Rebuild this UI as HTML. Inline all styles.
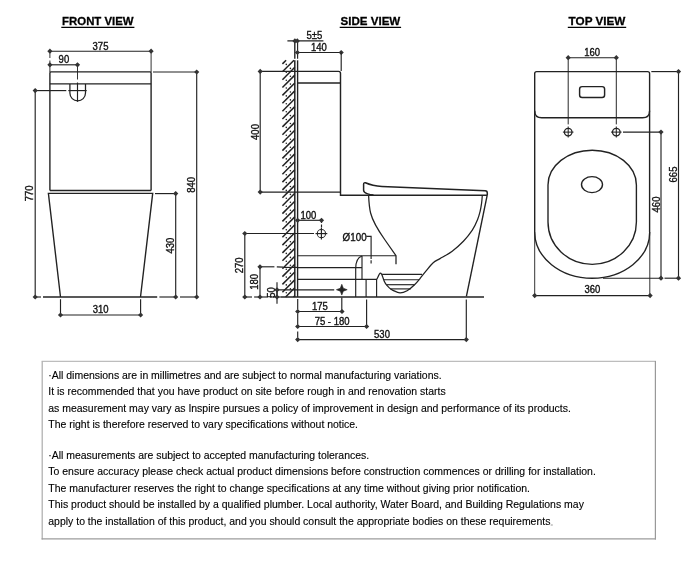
<!DOCTYPE html>
<html><head><meta charset="utf-8"><title>Toilet suite dimensions</title>
<style>
html,body{margin:0;padding:0;background:#fff;}
body{width:700px;height:587px;overflow:hidden;position:relative;}
svg{position:absolute;left:0;top:0;display:block;will-change:transform;}
</style></head><body>
<svg width="700" height="587" viewBox="0 0 700 587" font-family="'Liberation Sans', Arial, sans-serif" fill="#111" stroke="none">
<g stroke="#222" fill="none" stroke-linecap="butt">
<g>
<path d="M49.9 190.5 V72.9 Q49.9 71.9 50.9 71.9 H150.1 Q151.1 71.9 151.1 72.9 V190.5" stroke-width="1.38" />
<line x1="49.9" y1="83.9" x2="151.1" y2="83.9" stroke-width="1.38" />
<line x1="49.9" y1="190.5" x2="151.1" y2="190.5" stroke-width="1.38" />
<path d="M60.5 297.0 L48.4 193.4 H152.7 L140.5 297.0" stroke-width="1.38" stroke-linejoin="miter"/>
<line x1="43" y1="297.0" x2="157.2" y2="297.0" stroke-width="1.72" />
<path d="M69.9 83.9 V93.1 A7.8 7.8 0 0 0 85.5 93.1 V83.9" stroke-width="1.26" />
<line x1="68.3" y1="90.6" x2="86.7" y2="90.6" stroke-width="1.15" />
<line x1="77.5" y1="82.5" x2="77.5" y2="101.8" stroke-width="1.15" />
<line x1="77.5" y1="64.8" x2="77.5" y2="79.5" stroke-width="0.92" />
<line x1="49.9" y1="51.2" x2="49.9" y2="58" stroke-width="0.92" />
<line x1="49.9" y1="60.5" x2="49.9" y2="72" stroke-width="0.92" />
<line x1="151.1" y1="51.2" x2="151.1" y2="72" stroke-width="0.92" />
<line x1="35.2" y1="90.6" x2="66.3" y2="90.6" stroke-width="1.15" />
<line x1="35.2" y1="297.0" x2="41" y2="297.0" stroke-width="1.15" />
<line x1="153" y1="72.0" x2="196.7" y2="72.0" stroke-width="1.15" />
<line x1="155" y1="193.6" x2="175.7" y2="193.6" stroke-width="1.15" />
<line x1="159.4" y1="297.0" x2="175.7" y2="297.0" stroke-width="1.15" />
<line x1="180" y1="297.0" x2="196.7" y2="297.0" stroke-width="1.15" />
<line x1="60.5" y1="299.2" x2="60.5" y2="315.0" stroke-width="1.15" />
<line x1="140.6" y1="299.2" x2="140.6" y2="315.0" stroke-width="1.15" />
<line x1="49.9" y1="51.2" x2="151.1" y2="51.2" stroke-width="1.15" />
<path d="M47.3 51.2L49.9 48.6L52.5 51.2L49.9 53.8Z" fill="#333" stroke="none"/>
<path d="M148.5 51.2L151.1 48.6L153.7 51.2L151.1 53.8Z" fill="#333" stroke="none"/>
<text x="100.5" y="49.6" font-size="10.1" text-anchor="middle" stroke="#111" stroke-width="0.35" fill="#111" textLength="15.85" lengthAdjust="spacingAndGlyphs">375</text>
<line x1="49.9" y1="64.8" x2="77.5" y2="64.8" stroke-width="1.15" />
<path d="M47.3 64.8L49.9 62.2L52.5 64.8L49.9 67.4Z" fill="#333" stroke="none"/>
<path d="M74.9 64.8L77.5 62.2L80.1 64.8L77.5 67.4Z" fill="#333" stroke="none"/>
<text x="63.9" y="63.0" font-size="10.1" text-anchor="middle" stroke="#111" stroke-width="0.35" fill="#111" textLength="10.56" lengthAdjust="spacingAndGlyphs">90</text>
<line x1="60.5" y1="315.0" x2="140.6" y2="315.0" stroke-width="1.15" />
<path d="M57.9 315.0L60.5 312.4L63.1 315.0L60.5 317.6Z" fill="#333" stroke="none"/>
<path d="M138.0 315.0L140.6 312.4L143.2 315.0L140.6 317.6Z" fill="#333" stroke="none"/>
<text x="100.55" y="312.5" font-size="10.1" text-anchor="middle" stroke="#111" stroke-width="0.35" fill="#111" textLength="15.85" lengthAdjust="spacingAndGlyphs">310</text>
<line x1="35.2" y1="90.6" x2="35.2" y2="297.0" stroke-width="1.15" />
<path d="M32.6 90.6L35.2 88.0L37.8 90.6L35.2 93.2Z" fill="#333" stroke="none"/>
<path d="M32.6 297.0L35.2 294.4L37.8 297.0L35.2 299.6Z" fill="#333" stroke="none"/>
<text x="33.3" y="193.4" font-size="10.1" text-anchor="middle" stroke="#111" stroke-width="0.35" fill="#111" transform="rotate(-90 33.3 193.4)" textLength="15.85" lengthAdjust="spacingAndGlyphs">770</text>
<line x1="175.7" y1="193.6" x2="175.7" y2="297.0" stroke-width="1.15" />
<path d="M173.1 193.6L175.7 191.0L178.3 193.6L175.7 196.2Z" fill="#333" stroke="none"/>
<path d="M173.1 297.0L175.7 294.4L178.3 297.0L175.7 299.6Z" fill="#333" stroke="none"/>
<text x="173.8" y="245.6" font-size="10.1" text-anchor="middle" stroke="#111" stroke-width="0.35" fill="#111" transform="rotate(-90 173.8 245.6)" textLength="15.85" lengthAdjust="spacingAndGlyphs">430</text>
<line x1="196.7" y1="72.0" x2="196.7" y2="297.0" stroke-width="1.15" />
<path d="M194.1 72.0L196.7 69.4L199.3 72.0L196.7 74.6Z" fill="#333" stroke="none"/>
<path d="M194.1 297.0L196.7 294.4L199.3 297.0L196.7 299.6Z" fill="#333" stroke="none"/>
<text x="195.0" y="184.8" font-size="10.1" text-anchor="middle" stroke="#111" stroke-width="0.35" fill="#111" transform="rotate(-90 195.0 184.8)" textLength="15.85" lengthAdjust="spacingAndGlyphs">840</text>
<g stroke-width="1.5">
<line x1="282.4" y1="63.9" x2="286.1" y2="60.2"/>
<line x1="282.4" y1="71.8" x2="294.0" y2="60.2"/>
<line x1="282.4" y1="79.7" x2="294.8" y2="67.3"/>
<line x1="282.4" y1="87.5" x2="294.8" y2="75.1"/>
<line x1="282.4" y1="95.4" x2="294.8" y2="83.0"/>
<line x1="282.4" y1="103.3" x2="294.8" y2="90.9"/>
<line x1="282.4" y1="111.2" x2="294.8" y2="98.8"/>
<line x1="282.4" y1="119.0" x2="294.8" y2="106.6"/>
<line x1="282.4" y1="126.9" x2="294.8" y2="114.5"/>
<line x1="282.4" y1="134.8" x2="294.8" y2="122.4"/>
<line x1="282.4" y1="142.7" x2="294.8" y2="130.3"/>
<line x1="282.4" y1="150.6" x2="294.8" y2="138.2"/>
<line x1="282.4" y1="158.4" x2="294.8" y2="146.0"/>
<line x1="282.4" y1="166.3" x2="294.8" y2="153.9"/>
<line x1="282.4" y1="174.2" x2="294.8" y2="161.8"/>
<line x1="282.4" y1="182.1" x2="294.8" y2="169.7"/>
<line x1="282.4" y1="189.9" x2="294.8" y2="177.5"/>
<line x1="282.4" y1="197.8" x2="294.8" y2="185.4"/>
<line x1="282.4" y1="205.7" x2="294.8" y2="193.3"/>
<line x1="282.4" y1="213.6" x2="294.8" y2="201.2"/>
<line x1="282.4" y1="221.4" x2="294.8" y2="209.0"/>
<line x1="282.4" y1="229.3" x2="294.8" y2="216.9"/>
<line x1="282.4" y1="237.2" x2="294.8" y2="224.8"/>
<line x1="282.4" y1="245.1" x2="294.8" y2="232.7"/>
<line x1="282.4" y1="252.9" x2="294.8" y2="240.5"/>
<line x1="282.4" y1="260.8" x2="294.8" y2="248.4"/>
<line x1="282.4" y1="268.7" x2="294.8" y2="256.3"/>
<line x1="282.4" y1="276.6" x2="294.8" y2="264.2"/>
<line x1="282.4" y1="284.4" x2="294.8" y2="272.0"/>
<line x1="282.4" y1="292.3" x2="294.8" y2="279.9"/>
<line x1="285.6" y1="297.0" x2="294.8" y2="287.8"/>
<line x1="293.5" y1="297.0" x2="294.8" y2="295.7"/>
</g>
<circle cx="286.3" cy="64.4" r="0.8" fill="#222" stroke="none"/>
<circle cx="286.3" cy="72.3" r="0.8" fill="#222" stroke="none"/>
<circle cx="290.4" cy="68.4" r="0.8" fill="#222" stroke="none"/>
<circle cx="286.3" cy="80.2" r="0.8" fill="#222" stroke="none"/>
<circle cx="290.4" cy="76.3" r="0.8" fill="#222" stroke="none"/>
<circle cx="286.3" cy="88.0" r="0.8" fill="#222" stroke="none"/>
<circle cx="290.4" cy="84.1" r="0.8" fill="#222" stroke="none"/>
<circle cx="286.3" cy="95.9" r="0.8" fill="#222" stroke="none"/>
<circle cx="290.4" cy="92.0" r="0.8" fill="#222" stroke="none"/>
<circle cx="286.3" cy="103.8" r="0.8" fill="#222" stroke="none"/>
<circle cx="290.4" cy="99.9" r="0.8" fill="#222" stroke="none"/>
<circle cx="286.3" cy="111.7" r="0.8" fill="#222" stroke="none"/>
<circle cx="290.4" cy="107.8" r="0.8" fill="#222" stroke="none"/>
<circle cx="286.3" cy="119.5" r="0.8" fill="#222" stroke="none"/>
<circle cx="290.4" cy="115.6" r="0.8" fill="#222" stroke="none"/>
<circle cx="286.3" cy="127.4" r="0.8" fill="#222" stroke="none"/>
<circle cx="290.4" cy="123.5" r="0.8" fill="#222" stroke="none"/>
<circle cx="286.3" cy="135.3" r="0.8" fill="#222" stroke="none"/>
<circle cx="290.4" cy="131.4" r="0.8" fill="#222" stroke="none"/>
<circle cx="286.3" cy="143.2" r="0.8" fill="#222" stroke="none"/>
<circle cx="290.4" cy="139.3" r="0.8" fill="#222" stroke="none"/>
<circle cx="286.3" cy="151.1" r="0.8" fill="#222" stroke="none"/>
<circle cx="290.4" cy="147.2" r="0.8" fill="#222" stroke="none"/>
<circle cx="286.3" cy="158.9" r="0.8" fill="#222" stroke="none"/>
<circle cx="290.4" cy="155.0" r="0.8" fill="#222" stroke="none"/>
<circle cx="286.3" cy="166.8" r="0.8" fill="#222" stroke="none"/>
<circle cx="290.4" cy="162.9" r="0.8" fill="#222" stroke="none"/>
<circle cx="286.3" cy="174.7" r="0.8" fill="#222" stroke="none"/>
<circle cx="290.4" cy="170.8" r="0.8" fill="#222" stroke="none"/>
<circle cx="286.3" cy="182.6" r="0.8" fill="#222" stroke="none"/>
<circle cx="290.4" cy="178.7" r="0.8" fill="#222" stroke="none"/>
<circle cx="286.3" cy="190.4" r="0.8" fill="#222" stroke="none"/>
<circle cx="290.4" cy="186.5" r="0.8" fill="#222" stroke="none"/>
<circle cx="286.3" cy="198.3" r="0.8" fill="#222" stroke="none"/>
<circle cx="290.4" cy="194.4" r="0.8" fill="#222" stroke="none"/>
<circle cx="286.3" cy="206.2" r="0.8" fill="#222" stroke="none"/>
<circle cx="290.4" cy="202.3" r="0.8" fill="#222" stroke="none"/>
<circle cx="286.3" cy="214.1" r="0.8" fill="#222" stroke="none"/>
<circle cx="290.4" cy="210.2" r="0.8" fill="#222" stroke="none"/>
<circle cx="286.3" cy="221.9" r="0.8" fill="#222" stroke="none"/>
<circle cx="290.4" cy="218.0" r="0.8" fill="#222" stroke="none"/>
<circle cx="286.3" cy="229.8" r="0.8" fill="#222" stroke="none"/>
<circle cx="290.4" cy="225.9" r="0.8" fill="#222" stroke="none"/>
<circle cx="286.3" cy="237.7" r="0.8" fill="#222" stroke="none"/>
<circle cx="290.4" cy="233.8" r="0.8" fill="#222" stroke="none"/>
<circle cx="286.3" cy="245.6" r="0.8" fill="#222" stroke="none"/>
<circle cx="290.4" cy="241.7" r="0.8" fill="#222" stroke="none"/>
<circle cx="286.3" cy="253.4" r="0.8" fill="#222" stroke="none"/>
<circle cx="290.4" cy="249.5" r="0.8" fill="#222" stroke="none"/>
<circle cx="286.3" cy="261.3" r="0.8" fill="#222" stroke="none"/>
<circle cx="290.4" cy="257.4" r="0.8" fill="#222" stroke="none"/>
<circle cx="286.3" cy="269.2" r="0.8" fill="#222" stroke="none"/>
<circle cx="290.4" cy="265.3" r="0.8" fill="#222" stroke="none"/>
<circle cx="286.3" cy="277.1" r="0.8" fill="#222" stroke="none"/>
<circle cx="290.4" cy="273.2" r="0.8" fill="#222" stroke="none"/>
<circle cx="286.3" cy="284.9" r="0.8" fill="#222" stroke="none"/>
<circle cx="290.4" cy="281.0" r="0.8" fill="#222" stroke="none"/>
<circle cx="286.3" cy="292.8" r="0.8" fill="#222" stroke="none"/>
<circle cx="290.4" cy="288.9" r="0.8" fill="#222" stroke="none"/>
<line x1="294.8" y1="40.9" x2="294.8" y2="58.8" stroke-width="1.38" />
<line x1="294.8" y1="60.3" x2="294.8" y2="297" stroke-width="1.49" />
<line x1="297.6" y1="40.9" x2="297.6" y2="58.8" stroke-width="1.15" />
<line x1="297.6" y1="60.3" x2="297.6" y2="297" stroke-width="1.38" />
<path d="M297.6 71.4 H338.5 Q340.5 71.4 340.5 73.4 V195.2 H487.2" stroke-width="1.44" />
<line x1="297.6" y1="83" x2="340.5" y2="83" stroke-width="1.38" />
<line x1="260.2" y1="192.1" x2="340.5" y2="192.1" stroke-width="1.15" />
<line x1="260.2" y1="71.4" x2="297.6" y2="71.4" stroke-width="1.15" />
<path d="M373.5 195.1 C370.5 194.8 369 194.3 367 193.6 C365 192.9 363.6 192 363.6 190.3 V184.3 Q363.6 182.4 365.4 182.8 C371 185.3 376 186.1 382 186.4 L485.2 190.8 Q487.3 191 487.3 193 V195.2" stroke-width="1.49" stroke-linejoin="round"/>
<path d="M368.6 195.2 C368.9 202 369.4 208 370.6 213 C373 222.5 379 231.5 385 240 L396 255.7 V264.3" stroke-width="1.26" />
<line x1="487.2" y1="195.2" x2="466.4" y2="296.4" stroke-width="1.38" />
<path d="M482.3 195.2 C482.2 196.5 482.0 200.4 481.6 203.0 C481.2 205.6 480.9 208.2 480.2 211.0 C479.5 213.8 478.9 216.3 477.6 219.5 C476.3 222.7 474.7 226.6 472.3 230.2 C469.9 233.8 466.8 237.8 463.4 241.3 C460.0 244.8 456.1 248.4 452.2 251.3 C448.3 254.2 443.2 256.7 440.0 258.6 C436.8 260.5 435.6 260.6 433.2 262.7 C430.8 264.8 427.9 268.8 425.7 271.4 C423.5 274.0 421.9 276.3 420.0 278.6 C418.1 280.9 416.4 283.0 414.3 285.0 C412.2 287.0 409.5 289.4 407.1 290.7 C404.7 292.0 402.4 293.0 400.0 292.9 C397.6 292.8 394.7 291.1 392.9 290.3 C391.1 289.5 390.3 288.8 389.3 287.9 C388.3 287.0 387.5 286.2 386.7 285.2 C385.9 284.2 385.1 282.9 384.5 281.7 C383.9 280.5 383.5 279.1 383.1 278.1 C382.7 277.1 382.5 276.2 382.2 275.5 C381.9 274.8 381.8 274.4 381.5 274.0 C381.2 273.6 380.9 273.1 380.5 273.1 C380.1 273.1 379.7 273.5 379.4 274.0 C379.1 274.5 378.8 275.3 378.5 275.9 C378.2 276.5 377.9 277.1 377.6 277.7 C377.3 278.3 377.0 279.0 376.9 279.3" stroke-width="1.26" stroke-linejoin="round"/>
<line x1="382.1" y1="274.3" x2="422.1" y2="274.3" stroke-width="1.15" />
<line x1="384" y1="279.7" x2="419" y2="279.7" stroke-width="1.15" />
<line x1="386.6" y1="284.7" x2="414.6" y2="284.7" stroke-width="1.15" />
<line x1="390.3" y1="288.9" x2="410.7" y2="288.9" stroke-width="1.15" />
<line x1="297.6" y1="255.7" x2="396" y2="255.7" stroke-width="1.15" />
<path d="M355.7 296.9 V268.6 Q355.7 258 362 256" stroke-width="1.15" />
<line x1="362.0" y1="256" x2="362.0" y2="279.3" stroke-width="1.15" />
<line x1="297.6" y1="267.6" x2="362.0" y2="267.6" stroke-width="1.15" />
<line x1="297.6" y1="279.3" x2="377" y2="279.3" stroke-width="1.15" />
<line x1="366.1" y1="279.3" x2="366.1" y2="296.9" stroke-width="1.15" />
<line x1="376.6" y1="279.3" x2="376.6" y2="296.9" stroke-width="1.15" />
<line x1="281" y1="297.0" x2="484" y2="297.0" stroke-width="1.67" />
<path d="M366.4 236.4 H371.1 V258.9 M371.1 260.2 V263.5" stroke-width="1.15" />
<line x1="260" y1="266.8" x2="274.4" y2="266.8" stroke-width="1.15" />
<line x1="276.8" y1="266.9" x2="283" y2="267.1" stroke-width="1.15" />
<line x1="283" y1="267.4" x2="297.6" y2="267.4" stroke-width="1.15" />
<line x1="244.8" y1="233.5" x2="314" y2="233.5" stroke-width="1.15" />
<circle cx="321.4" cy="233.6" r="4.1" stroke-width="1.0"/>
<line x1="315.5" y1="233.6" x2="327.3" y2="233.6" stroke-width="1.15" />
<line x1="321.4" y1="227.7" x2="321.4" y2="239.5" stroke-width="1.15" />
<line x1="321.5" y1="220.3" x2="321.5" y2="223" stroke-width="1.15" />
<line x1="321.5" y1="224.5" x2="321.5" y2="227.5" stroke-width="1.15" />
<line x1="277" y1="289.8" x2="334.2" y2="289.8" stroke-width="1.15" />
<line x1="277" y1="282.3" x2="277" y2="303.8" stroke-width="1.15" />
<path d="M341.8 284.3 L343.3 288.2 L347.2 289.7 L343.3 291.2 L341.8 295.09999999999997 L340.3 291.2 L336.40000000000003 289.7 L340.3 288.2 Z" fill="#222" stroke="#222" stroke-width="0.6"/>
<line x1="244.8" y1="297" x2="252" y2="297" stroke-width="1.15" />
<line x1="254" y1="297" x2="260" y2="297" stroke-width="1.15" />
<line x1="262" y1="297" x2="268" y2="297" stroke-width="1.15" />
<line x1="270" y1="297" x2="281" y2="297" stroke-width="1.15" />
<line x1="297.7" y1="299" x2="297.7" y2="309.5" stroke-width="1.15" />
<line x1="297.7" y1="313.5" x2="297.7" y2="324.7" stroke-width="1.15" />
<line x1="297.7" y1="331.5" x2="297.7" y2="337.6" stroke-width="1.15" />
<line x1="341.8" y1="297.5" x2="341.8" y2="311.5" stroke-width="1.15" />
<line x1="366.6" y1="299.4" x2="366.6" y2="326.5" stroke-width="1.15" />
<line x1="466.3" y1="299.4" x2="466.3" y2="339.6" stroke-width="1.15" />
<line x1="287.4" y1="40.9" x2="323.4" y2="40.9" stroke-width="1.15" />
<path d="M292.3 40.9L294.9 38.3L297.5 40.9L294.9 43.5Z" fill="#333" stroke="none"/>
<path d="M294.7 40.9L297.3 38.3L299.9 40.9L297.3 43.5Z" fill="#333" stroke="none"/>
<text x="314.4" y="39.4" font-size="10.1" text-anchor="middle" stroke="#111" stroke-width="0.35" fill="#111" textLength="15.78" lengthAdjust="spacingAndGlyphs">5±5</text>
<line x1="297.4" y1="52.5" x2="341.2" y2="52.5" stroke-width="1.15" />
<path d="M294.8 52.5L297.4 49.9L300.0 52.5L297.4 55.1Z" fill="#333" stroke="none"/>
<path d="M338.6 52.5L341.2 49.9L343.8 52.5L341.2 55.1Z" fill="#333" stroke="none"/>
<text x="318.8" y="50.8" font-size="10.1" text-anchor="middle" stroke="#111" stroke-width="0.35" fill="#111" textLength="15.85" lengthAdjust="spacingAndGlyphs">140</text>
<line x1="341.2" y1="52.5" x2="341.2" y2="71" stroke-width="1.15" />
<line x1="260.2" y1="71.4" x2="260.2" y2="192.1" stroke-width="1.15" />
<path d="M257.6 71.4L260.2 68.8L262.8 71.4L260.2 74.0Z" fill="#333" stroke="none"/>
<path d="M257.6 192.1L260.2 189.5L262.8 192.1L260.2 194.7Z" fill="#333" stroke="none"/>
<text x="258.6" y="132" font-size="10.1" text-anchor="middle" stroke="#111" stroke-width="0.35" fill="#111" transform="rotate(-90 258.6 132)" textLength="15.85" lengthAdjust="spacingAndGlyphs">400</text>
<line x1="244.8" y1="233.5" x2="244.8" y2="297" stroke-width="1.15" />
<path d="M242.2 233.5L244.8 230.9L247.4 233.5L244.8 236.1Z" fill="#333" stroke="none"/>
<path d="M242.2 297L244.8 294.4L247.4 297L244.8 299.6Z" fill="#333" stroke="none"/>
<text x="242.7" y="265.3" font-size="10.1" text-anchor="middle" stroke="#111" stroke-width="0.35" fill="#111" transform="rotate(-90 242.7 265.3)" textLength="15.85" lengthAdjust="spacingAndGlyphs">270</text>
<line x1="260" y1="266.8" x2="260" y2="297" stroke-width="1.15" />
<path d="M257.4 266.8L260 264.2L262.6 266.8L260 269.4Z" fill="#333" stroke="none"/>
<path d="M257.4 297L260 294.4L262.6 297L260 299.6Z" fill="#333" stroke="none"/>
<text x="258.4" y="281.8" font-size="10.1" text-anchor="middle" stroke="#111" stroke-width="0.35" fill="#111" transform="rotate(-90 258.4 281.8)" textLength="15.85" lengthAdjust="spacingAndGlyphs">180</text>
<line x1="277" y1="289.8" x2="277" y2="297" stroke-width="1.15" />
<path d="M274.4 289.8L277 287.2L279.6 289.8L277 292.4Z" fill="#333" stroke="none"/>
<path d="M274.4 297L277 294.4L279.6 297L277 299.6Z" fill="#333" stroke="none"/>
<text x="274.8" y="292.5" font-size="10.1" text-anchor="middle" stroke="#111" stroke-width="0.35" fill="#111" transform="rotate(-90 274.8 292.5)" textLength="10.56" lengthAdjust="spacingAndGlyphs">50</text>
<line x1="297.6" y1="220.3" x2="321.5" y2="220.3" stroke-width="1.15" />
<path d="M295.0 220.3L297.6 217.7L300.2 220.3L297.6 222.9Z" fill="#333" stroke="none"/>
<path d="M318.9 220.3L321.5 217.7L324.1 220.3L321.5 222.9Z" fill="#333" stroke="none"/>
<text x="308.4" y="219.0" font-size="10.1" text-anchor="middle" stroke="#111" stroke-width="0.35" fill="#111" textLength="15.85" lengthAdjust="spacingAndGlyphs">100</text>
<line x1="297.7" y1="311.5" x2="342.0" y2="311.5" stroke-width="1.15" />
<path d="M295.1 311.5L297.7 308.9L300.3 311.5L297.7 314.1Z" fill="#333" stroke="none"/>
<path d="M339.4 311.5L342.0 308.9L344.6 311.5L342.0 314.1Z" fill="#333" stroke="none"/>
<text x="319.9" y="309.9" font-size="10.1" text-anchor="middle" stroke="#111" stroke-width="0.35" fill="#111" textLength="15.85" lengthAdjust="spacingAndGlyphs">175</text>
<line x1="297.7" y1="326.5" x2="366.6" y2="326.5" stroke-width="1.15" />
<path d="M295.1 326.5L297.7 323.9L300.3 326.5L297.7 329.1Z" fill="#333" stroke="none"/>
<path d="M364.0 326.5L366.6 323.9L369.2 326.5L366.6 329.1Z" fill="#333" stroke="none"/>
<text x="332.1" y="324.8" font-size="10.1" text-anchor="middle" stroke="#111" stroke-width="0.35" fill="#111" textLength="34.86" lengthAdjust="spacingAndGlyphs">75 - 180</text>
<line x1="297.7" y1="339.6" x2="466.3" y2="339.6" stroke-width="1.15" />
<path d="M295.1 339.6L297.7 337.0L300.3 339.6L297.7 342.2Z" fill="#333" stroke="none"/>
<path d="M463.7 339.6L466.3 337.0L468.9 339.6L466.3 342.2Z" fill="#333" stroke="none"/>
<text x="382.0" y="337.5" font-size="10.1" text-anchor="middle" stroke="#111" stroke-width="0.35" fill="#111" textLength="15.85" lengthAdjust="spacingAndGlyphs">530</text>
<text x="354.6" y="240.8" font-size="10.4" text-anchor="middle" stroke="#111" stroke-width="0.35" fill="#111" textLength="23.97" lengthAdjust="spacingAndGlyphs">Ø100</text>
<path d="M534.7 232 V73.6 Q534.7 71.6 536.7 71.6 H647.6 Q649.6 71.6 649.6 73.6 V232" stroke-width="1.38" />
<path d="M534.7 110.7 Q534.7 117.7 541.7 117.7 H642.6 Q649.6 117.7 649.6 110.7" stroke-width="1.38" />
<rect x="579.6" y="86.6" width="25.0" height="10.9" rx="2.5" ry="2.5" stroke-width="1.45"/>
<path d="M534.7 232 A57.5 46.2 0 0 0 649.7 232" stroke-width="1.38" />
<path d="M548 185 A44.2 34.8 0 0 1 636.4 185 V222 A44.2 42.4 0 0 1 548 222 Z" stroke-width="1.38" />
<ellipse cx="592.0" cy="184.6" rx="10.5" ry="8" stroke-width="1.4"/>
<circle cx="568.2" cy="132.1" r="3.8" stroke-width="1.3"/>
<line x1="562.9000000000001" y1="132.1" x2="573.5" y2="132.1" stroke-width="1.03" />
<line x1="568.2" y1="126.6" x2="568.2" y2="137.5" stroke-width="1.03" />
<line x1="568.2" y1="57.7" x2="568.2" y2="124.4" stroke-width="0.98" />
<circle cx="616.3" cy="132.1" r="3.8" stroke-width="1.3"/>
<line x1="611.0" y1="132.1" x2="621.5999999999999" y2="132.1" stroke-width="1.03" />
<line x1="616.3" y1="126.6" x2="616.3" y2="137.5" stroke-width="1.03" />
<line x1="616.3" y1="57.7" x2="616.3" y2="124.4" stroke-width="0.98" />
<line x1="623" y1="132.1" x2="661" y2="132.1" stroke-width="1.15" />
<line x1="651.3" y1="71.6" x2="678.5" y2="71.6" stroke-width="1.15" />
<line x1="603" y1="278.2" x2="661" y2="278.2" stroke-width="1.15" />
<line x1="664.5" y1="278.2" x2="678.5" y2="278.2" stroke-width="1.15" />
<line x1="534.7" y1="232" x2="534.7" y2="295.6" stroke-width="0.92" />
<line x1="649.8" y1="232" x2="649.8" y2="295.6" stroke-width="0.92" />
<line x1="568.2" y1="57.7" x2="616.3" y2="57.7" stroke-width="1.15" />
<path d="M565.6 57.7L568.2 55.1L570.8 57.7L568.2 60.3Z" fill="#333" stroke="none"/>
<path d="M613.7 57.7L616.3 55.1L618.9 57.7L616.3 60.3Z" fill="#333" stroke="none"/>
<text x="592.2" y="56.4" font-size="10.1" text-anchor="middle" stroke="#111" stroke-width="0.35" fill="#111" textLength="15.85" lengthAdjust="spacingAndGlyphs">160</text>
<line x1="534.7" y1="295.6" x2="650.1" y2="295.6" stroke-width="1.15" />
<path d="M532.1 295.6L534.7 293.0L537.3 295.6L534.7 298.2Z" fill="#333" stroke="none"/>
<path d="M647.5 295.6L650.1 293.0L652.7 295.6L650.1 298.2Z" fill="#333" stroke="none"/>
<text x="592.4" y="293.3" font-size="10.1" text-anchor="middle" stroke="#111" stroke-width="0.35" fill="#111" textLength="15.85" lengthAdjust="spacingAndGlyphs">360</text>
<line x1="661" y1="132.1" x2="661" y2="278.2" stroke-width="1.15" />
<path d="M658.4 132.1L661 129.5L663.6 132.1L661 134.7Z" fill="#333" stroke="none"/>
<path d="M658.4 278.2L661 275.6L663.6 278.2L661 280.8Z" fill="#333" stroke="none"/>
<text x="659.6" y="204.5" font-size="10.1" text-anchor="middle" stroke="#111" stroke-width="0.35" fill="#111" transform="rotate(-90 659.6 204.5)" textLength="15.85" lengthAdjust="spacingAndGlyphs">460</text>
<line x1="678.5" y1="71.6" x2="678.5" y2="278.2" stroke-width="1.15" />
<path d="M675.9 71.6L678.5 69.0L681.1 71.6L678.5 74.2Z" fill="#333" stroke="none"/>
<path d="M675.9 278.2L678.5 275.6L681.1 278.2L678.5 280.8Z" fill="#333" stroke="none"/>
<text x="677.2" y="174.5" font-size="10.1" text-anchor="middle" stroke="#111" stroke-width="0.35" fill="#111" transform="rotate(-90 677.2 174.5)" textLength="15.85" lengthAdjust="spacingAndGlyphs">665</text>
<text x="62.1" y="24.7" font-size="11.8" font-weight="bold" stroke="#000" stroke-width="0.3" fill="#000" textLength="71.5" lengthAdjust="spacingAndGlyphs">FRONT VIEW</text>
<line x1="61.300000000000004" y1="27.4" x2="134.4" y2="27.4" stroke="#000" stroke-width="1.1"/>
<text x="340.5" y="24.7" font-size="11.8" font-weight="bold" stroke="#000" stroke-width="0.3" fill="#000" textLength="59.8" lengthAdjust="spacingAndGlyphs">SIDE VIEW</text>
<line x1="339.7" y1="27.4" x2="401.1" y2="27.4" stroke="#000" stroke-width="1.1"/>
<text x="568.6" y="24.7" font-size="11.8" font-weight="bold" stroke="#000" stroke-width="0.3" fill="#000" textLength="56.8" lengthAdjust="spacingAndGlyphs">TOP VIEW</text>
<line x1="567.8000000000001" y1="27.4" x2="626.1999999999999" y2="27.4" stroke="#000" stroke-width="1.1"/>
<line x1="41.6" y1="361.4" x2="656" y2="361.4" stroke="#bdbdbd" stroke-width="1.1"/>
<line x1="42.2" y1="361.4" x2="42.2" y2="539.4" stroke="#ababab" stroke-width="1.2"/>
<line x1="655.4" y1="361" x2="655.4" y2="539.4" stroke="#999" stroke-width="1.2"/>
<line x1="41.6" y1="538.9" x2="656" y2="538.9" stroke="#9c9c9c" stroke-width="1.2"/>
<text x="48.3" y="378.8" font-size="10.48" stroke="#000" stroke-width="0.12" fill="#000" textLength="393.3" lengthAdjust="spacing">·All dimensions are in millimetres and are subject to normal manufacturing variations.</text>
<text x="48.3" y="394.95" font-size="10.48" stroke="#000" stroke-width="0.12" fill="#000" textLength="397.4" lengthAdjust="spacing">It is recommended that you have product on site before rough in and renovation starts</text>
<text x="48.3" y="411.6" font-size="10.48" stroke="#000" stroke-width="0.12" fill="#000" textLength="522.6" lengthAdjust="spacing">as measurement may vary as Inspire pursues a policy of improvement in design and performance of its products.</text>
<text x="48.3" y="428.2" font-size="10.48" stroke="#000" stroke-width="0.12" fill="#000" textLength="309.7" lengthAdjust="spacing">The right is therefore reserved to vary specifications without notice.</text>
<text x="48.3" y="458.65" font-size="10.48" stroke="#000" stroke-width="0.12" fill="#000" textLength="320.8" lengthAdjust="spacing">·All measurements are subject to accepted manufacturing tolerances.</text>
<text x="48.3" y="475.15" font-size="10.48" stroke="#000" stroke-width="0.12" fill="#000" textLength="547.5" lengthAdjust="spacing">To ensure accuracy please check actual product dimensions before construction commences or drilling for installation.</text>
<text x="48.3" y="491.85" font-size="10.48" stroke="#000" stroke-width="0.12" fill="#000" textLength="481.7" lengthAdjust="spacing">The manufacturer reserves the right to change specifications at any time without giving prior notification.</text>
<text x="48.3" y="508.2" font-size="10.48" stroke="#000" stroke-width="0.12" fill="#000" textLength="535.6" lengthAdjust="spacing">This product should be installed by a qualified plumber. Local authority, Water Board, and Building Regulations may</text>
<text x="48.3" y="524.8" font-size="10.48" stroke="#000" stroke-width="0.12" fill="#000" textLength="502.1" lengthAdjust="spacing">apply to the installation of this product, and you should consult the appropriate bodies on these requirements</text>
<text x="550.6" y="524.8" font-size="6" stroke="none" fill="#888" font-family="'Liberation Sans','Noto Sans CJK SC',sans-serif">。</text>
</g>
</svg>
</body></html>
